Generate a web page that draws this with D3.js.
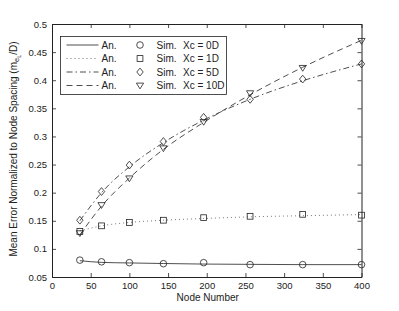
<!DOCTYPE html>
<html>
<head>
<meta charset="utf-8">
<script src="https://cdn.jsdelivr.net/npm/d3@7"></script>
<style>
  body { margin: 0; background: #fff; }
  text { font-family: "Liberation Sans", Arial, sans-serif; fill: #222; }
</style>
</head>
<body>
<div id="chart"></div>
<script>
// node numbers (x)
const nodes = [36, 64, 100, 144, 196, 256, 324, 400];

// simulation points
const sim0 = [0.080, 0.077, 0.0755, 0.0737, 0.0755, 0.072, 0.072, 0.072];
const sim1 = [0.131, 0.141, 0.147, 0.151, 0.1555, 0.158, 0.1615, 0.160];
const sim5 = [0.151, 0.202, 0.249, 0.291, 0.334, 0.366, 0.402, 0.429];
const sim10 = [0.128, 0.178, 0.2255, 0.279, 0.326, 0.377, 0.422, 0.470];

// analytical curves
const an0 = [0.079, 0.076, 0.075, 0.074, 0.073, 0.0725, 0.072, 0.072];
const an1 = [0.132, 0.141, 0.147, 0.151, 0.154, 0.157, 0.159, 0.161];
const an5 = [0.150, 0.200, 0.246, 0.289, 0.329, 0.366, 0.399, 0.429];
const an10 = [0.125, 0.176, 0.226, 0.277, 0.325, 0.374, 0.423, 0.471];

const xTicks = [0, 50, 100, 150, 200, 250, 300, 350, 400];
const yTicks = [0.05, 0.1, 0.15, 0.2, 0.25, 0.3, 0.35, 0.4, 0.45, 0.5];
const legendLabels = ["Xc = 0D", "Xc = 1D", "Xc = 5D", "Xc = 10D"];

const W = 399, H = 311;
const margin = { top: 24, right: 37.5, bottom: 34, left: 52 };
const width = W - margin.left - margin.right;
const height = H - margin.top - margin.bottom;

const x = d3.scaleLinear().domain([0, 400]).range([0, width]);
const y = d3.scaleLinear().domain([0.05, 0.5]).range([height, 0]);

const svg = d3.select('#chart').append('svg')
  .attr('width', W).attr('height', H);
const g = svg.append('g')
  .attr('transform', 'translate(' + margin.left + ',' + margin.top + ')');

const ink = '#222';
const series = [
  { an: an0, sim: sim0, dash: null, shape: 'circle' },
  { an: an1, sim: sim1, dash: '1,3', shape: 'square' },
  { an: an5, sim: sim5, dash: '6,3,1.5,3', shape: 'diamond' },
  { an: an10, sim: sim10, dash: '6,4', shape: 'triangle' }
];

function marker(sel, shape) {
  if (shape === 'circle') {
    sel.append('circle').attr('r', 3.3);
  } else if (shape === 'square') {
    sel.append('rect').attr('x', -2.9).attr('y', -2.9).attr('width', 5.8).attr('height', 5.8);
  } else if (shape === 'diamond') {
    sel.append('path').attr('d', 'M0,-3.9L3.2,0L0,3.9L-3.2,0Z');
  } else {
    sel.append('path').attr('d', 'M-3.6,-2.4L3.6,-2.4L0,3.4Z');
  }
  sel.selectAll('*').attr('fill', 'none').attr('stroke', ink).attr('stroke-width', 0.8);
}

const line = d3.line()
  .x((d, i) => x(nodes[i]))
  .y(d => y(d))
  .curve(d3.curveMonotoneX);

series.forEach(s => {
  g.append('path')
    .attr('d', line(s.an))
    .attr('fill', 'none')
    .attr('stroke', s.shape === 'square' ? '#555' : ink)
    .attr('stroke-width', 0.8)
    .attr('stroke-dasharray', s.dash);
  s.sim.forEach((v, i) => {
    const m = g.append('g').attr('transform', 'translate(' + x(nodes[i]) + ',' + y(v) + ')');
    marker(m, s.shape);
  });
});

// axes box with inward ticks
const tl = 4;
g.append('g').attr('transform', 'translate(0,' + height + ')')
  .call(d3.axisBottom(x).tickValues(xTicks).tickSizeInner(-tl).tickSizeOuter(0).tickPadding(5));
g.append('g')
  .call(d3.axisTop(x).tickValues(xTicks).tickSizeInner(-tl).tickSizeOuter(0).tickFormat(''));
g.append('g')
  .call(d3.axisLeft(y).tickValues(yTicks).tickSizeInner(-tl).tickSizeOuter(0).tickPadding(5)
    .tickFormat(d => d3.format('')(+d.toFixed(2))));
g.append('g').attr('transform', 'translate(' + width + ',0)')
  .call(d3.axisRight(y).tickValues(yTicks).tickSizeInner(-tl).tickSizeOuter(0).tickFormat(''));

g.selectAll('.domain').attr('stroke', ink).attr('stroke-width', 1);
g.selectAll('.tick line').attr('stroke', ink).attr('stroke-width', 0.8);
g.selectAll('.tick text').attr('font-size', 9.5).attr('fill', ink)
  .attr('font-family', '"Liberation Sans", Arial, sans-serif');

// axis labels
svg.append('text')
  .attr('x', margin.left + x(200) + 1).attr('y', 300.5)
  .attr('text-anchor', 'middle').attr('font-size', 10)
  .text('Node Number');

const yl = svg.append('text')
  .attr('transform', 'translate(17,149) rotate(-90)')
  .attr('text-anchor', 'middle').attr('font-size', 10);
yl.append('tspan').text('Mean Error Normalized to Node Spacing (m');
yl.append('tspan').attr('font-size', 7.5).attr('dy', 2).text('e');
yl.append('tspan').attr('font-size', 5.5).attr('dy', 2).text('L');
yl.append('tspan').attr('dy', -4).text('/D)');

// legend
const lg = svg.append('g').attr('transform', 'translate(60.5,36.5)');
lg.append('rect').attr('width', 166).attr('height', 58)
  .attr('fill', '#fff').attr('stroke', ink).attr('stroke-width', 0.8);
series.forEach((s, i) => {
  const ry = 8.5 + i * 13.5;
  lg.append('line').attr('x1', 6).attr('x2', 38).attr('y1', ry).attr('y2', ry)
    .attr('stroke', s.shape === 'square' ? '#555' : ink).attr('stroke-width', 0.8)
    .attr('stroke-dasharray', s.dash);
  lg.append('text').attr('x', 41).attr('y', ry + 3.5).attr('font-size', 10).text('An.');
  const m = lg.append('g').attr('transform', 'translate(79.5,' + ry + ')');
  marker(m, s.shape);
  lg.append('text').attr('x', 96).attr('y', ry + 3.5).attr('font-size', 10).text('Sim.');
  lg.append('text').attr('x', 122.5).attr('y', ry + 3.5).attr('font-size', 10).text(legendLabels[i]);
});
</script>
</body>
</html>
